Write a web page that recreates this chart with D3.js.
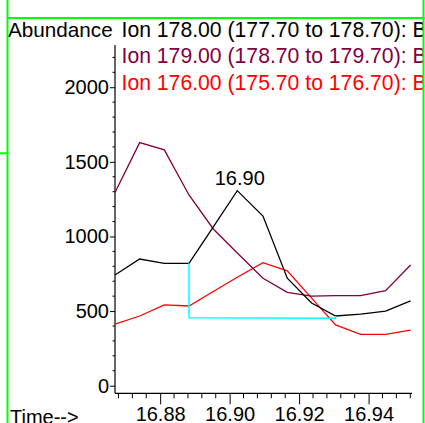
<!DOCTYPE html>
<html>
<head>
<meta charset="utf-8">
<script src="https://cdn.jsdelivr.net/npm/d3@7"></script>
<style>
  html, body { margin: 0; padding: 0; background: #fff; }
  svg { display: block; }
  text { font-family: "Liberation Sans", Arial, sans-serif; }
</style>
</head>
<body>
<svg id="chart" width="425" height="423"></svg>
<script>
// ---- data ----
const times   = [16.8670, 16.8741, 16.8812, 16.8883, 16.8953, 16.9022, 16.9096, 16.9166, 16.9236, 16.9305, 16.9377, 16.9449, 16.9521];
const ion178  = [742, 849, 820, 820, 1064, 1307, 1137, 720, 554, 467, 480, 500, 568];
const ion179  = [1294, 1629, 1580, 1278, 1050, 889, 720, 626, 600, 603, 603, 637, 809];
const ion176  = [413, 467, 541, 534, 631, 727, 824, 769, 587, 407, 344, 344, 373];
const baseTimes  = [16.8883, 16.8883, 16.9305, 16.9305];
const baseValues = [820, 456, 452, 467];
const peakLabel = "16.90";
const peakIndex = 5;
const legendLabels = [
  "Ion 178.00 (177.70 to 178.70): B",
  "Ion 179.00 (178.70 to 179.70): B",
  "Ion 176.00 (175.70 to 176.70): B"
];
const seriesColors = ["#000000", "#800040", "#ff0000"];
const yMajorTicks = [0, 500, 1000, 1500, 2000];
const xMajorTicks = [16.88, 16.90, 16.92, 16.94];
const yLabel = "Abundance";
const xLabel = "Time-->";

// ---- drawing ----
const svg = d3.select("#chart");
const x = d3.scaleLinear().domain([16.867, 16.9525]).range([115, 412]);
const y = d3.scaleLinear().domain([-51, 2283]).range([393.3, 45]);

const defs = svg.append("defs");
defs.append("clipPath").attr("id", "frameClip")
  .append("rect").attr("x", 0).attr("y", 0).attr("width", 423).attr("height", 423);

// y axis
const yMinor = d3.range(0, 2201, 100).filter(v => yMajorTicks.indexOf(v) < 0);
const yAxisG = svg.append("g").attr("transform", "translate(115,0)");
yAxisG.call(d3.axisLeft(y).tickValues(yMajorTicks).tickFormat(d3.format("d")).tickSize(5).tickPadding(1))
  .call(g => g.select(".domain").remove());
yAxisG.selectAll("text").attr("font-size", 20).attr("fill", "#000")
  .attr("font-family", "Liberation Sans, Arial, sans-serif");
yAxisG.selectAll("line").attr("stroke", "#000");
yAxisG.append("g").selectAll("line").data(yMinor).join("line")
  .attr("x1", -2.5).attr("x2", 0).attr("y1", d => y(d)).attr("y2", d => y(d)).attr("stroke", "#000");
svg.append("line").attr("x1", 115).attr("x2", 115).attr("y1", 45).attr("y2", y.range()[0]).attr("stroke", "#000").attr("stroke-width", 1.2);

// x axis
const xMinor = d3.range(0, 22).map(i => +(16.868 + i * 0.004).toFixed(3))
  .filter(v => xMajorTicks.every(m => Math.abs(m - v) > 1e-6));
const xAxisG = svg.append("g").attr("transform", `translate(0,${y.range()[0]})`);
xAxisG.call(d3.axisBottom(x).tickValues(xMajorTicks).tickFormat(d3.format(".2f")).tickSize(11).tickPadding(3))
  .call(g => g.select(".domain").remove());
xAxisG.selectAll("text").attr("font-size", 20).attr("fill", "#000")
  .attr("font-family", "Liberation Sans, Arial, sans-serif");
xAxisG.selectAll("line").attr("stroke", "#000");
xAxisG.append("g").selectAll("line").data(xMinor).join("line")
  .attr("x1", d => x(d)).attr("x2", d => x(d)).attr("y1", 0).attr("y2", 5).attr("stroke", "#000");
svg.append("line").attr("x1", 115).attr("x2", 412).attr("y1", y.range()[0]).attr("y2", y.range()[0]).attr("stroke", "#000").attr("stroke-width", 1.2);

// series
const line = d3.line().x(d => x(d[0])).y(d => y(d[1]));
const series = [ion178, ion179, ion176];
// draw red first, then purple, then black on top
[2, 1, 0].forEach(si => {
  svg.append("path")
    .attr("d", line(times.map((t, i) => [t, series[si][i]])))
    .attr("fill", "none").attr("stroke", seriesColors[si]).attr("stroke-width", 1.3)
    .attr("stroke-linejoin", "miter");
});
// integration baseline
svg.append("path")
  .attr("d", line(baseTimes.map((t, i) => [t, baseValues[i]])))
  .attr("fill", "none").attr("stroke", "#00ffff").attr("stroke-width", 1.5);

// peak label
svg.append("text").attr("x", x(times[peakIndex]) + 2.5).attr("y", y(ion178[peakIndex]) - 5.7)
  .attr("text-anchor", "middle").attr("font-size", 20).attr("fill", "#000").text(peakLabel);

// axis titles
svg.append("text").attr("x", 8).attr("y", 37.3).attr("font-size", 20.7).attr("fill", "#000").text(yLabel);
svg.append("text").attr("x", 10).attr("y", 423.6).attr("font-size", 20).attr("fill", "#000").text(xLabel);

// legend
const legG = svg.append("g").attr("clip-path", "url(#frameClip)");
legendLabels.forEach((lab, i) => {
  legG.append("text").attr("x", 121.5).attr("y", [37.3, 63.3, 90.2][i])
    .attr("font-size", 21.2).attr("fill", seriesColors[i]).text(lab);
});

// green frame
const green = "#00ff00";
svg.append("line").attr("x1", 7.5).attr("x2", 7.5).attr("y1", 0).attr("y2", 423).attr("stroke", green).attr("stroke-width", 2);
svg.append("line").attr("x1", 423.5).attr("x2", 423.5).attr("y1", 0).attr("y2", 423).attr("stroke", green).attr("stroke-width", 2);
svg.append("line").attr("x1", 7).attr("x2", 424).attr("y1", 18).attr("y2", 18).attr("stroke", green).attr("stroke-width", 2);
svg.append("line").attr("x1", 0).attr("x2", 7).attr("y1", 153.3).attr("y2", 153.3).attr("stroke", green).attr("stroke-width", 2);
</script>
</body>
</html>
